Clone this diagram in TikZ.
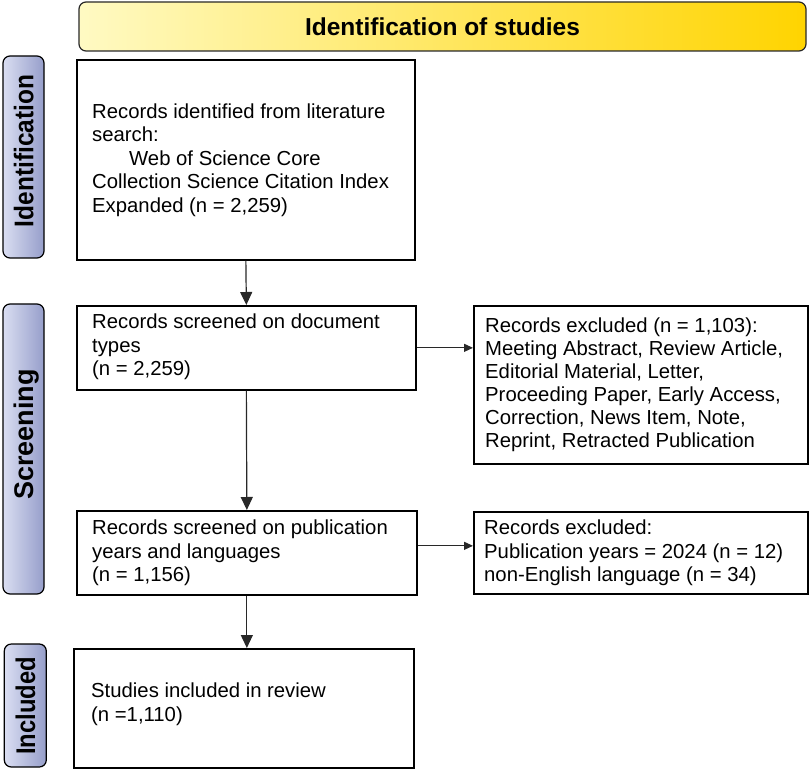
\documentclass[tikz,border=0pt]{standalone}
\usepackage{fontspec}
\setmainfont{Liberation Sans}
\usepackage{graphicx}
\usetikzlibrary{arrows.meta,calc}
\definecolor{hdrL}{RGB}{255,250,195}
\definecolor{hdrM}{RGB}{255,238,40}
\definecolor{hdrR}{RGB}{255,212,0}
\definecolor{labL}{RGB}{218,222,242}
\definecolor{labR}{RGB}{150,158,202}
\definecolor{linec}{RGB}{40,40,40}
\newcommand{\sidetext}[2]{\rotatebox{90}{\scalebox{#1}[1]{\raisebox{0pt}[\height][0pt]{#2}}}}
\tikzset{
 hdr/.style={draw=linec, line width=1.2pt, rounded corners=7pt, left color=hdrL, middle color=hdrM, right color=hdrR, minimum width=727pt, minimum height=49pt, inner sep=0pt, font=\fontsize{24.5}{28}\selectfont\bfseries},
 lab/.style={draw=black, line width=1.2pt, rounded corners=7pt, left color=labL, right color=labR, minimum width=41pt, inner sep=0pt},
 labtxt/.style={inner sep=0pt, font=\fontsize{27}{30}\selectfont\bfseries},
 box/.style={draw=black, line width=1.7pt, fill=white, inner sep=0pt, anchor=north west},
 txt/.style={anchor=west, inner sep=0pt, align=left, font=\fontsize{20.3}{23.5}\selectfont},
 arr/.style={draw=linec, line width=1.2pt, -{Triangle[length=13pt,width=12pt]}},
 harr/.style={draw=linec, line width=1.2pt, -{Triangle[length=9pt,width=8pt]}},
}
\begin{document}
\begin{tikzpicture}[x=1pt,y=-1pt]
\useasboundingbox (0,0) rectangle (809,770);
% header
\node[hdr] (hdr) at (442.5,26.5) {Identification of studies};
% side labels
\node[lab, minimum height=202pt] (labid) at (23.5,157) {};
\node[lab, minimum height=290pt] (labsc) at (23.5,449) {};
\node[lab, minimum height=123pt, minimum width=42pt] (labin) at (25.3,705.5) {};
\node[labtxt] (labidt) at (23.5,151) {\sidetext{0.905}{Identification}};
\node[labtxt] (labsct) at (23.5,434.5) {\sidetext{1.0}{Screening}};
\node[labtxt] (labint) at (25.3,706) {\sidetext{0.88}{Included}};
% boxes
\node[box, minimum width=338pt, minimum height=200pt] (b1) at (76,59) {};
\node[box, minimum width=339pt, minimum height=84pt] (b2) at (76,305) {};
\node[box, minimum width=340pt, minimum height=84pt] (b3) at (76,510) {};
\node[box, minimum width=340pt, minimum height=119pt] (b4) at (73,648) {};
\node[box, minimum width=334pt, minimum height=158pt] (e1) at (473,305) {};
\node[box, minimum width=334pt, minimum height=82pt] (e2) at (473,511) {};
% texts
\node[txt] (t1) at ($(b1.west)+(16,0)$) {Records identified from literature\\search:\\\hspace*{37pt}Web of Science Core\\Collection Science Citation Index\\Expanded (n = 2,259)};
\node[txt] (t2) at ($(b2.west)+(16,-1)$) {Records screened on document\\types\\(n = 2,259)};
\node[txt] (t3) at ($(b3.west)+(16,0)$) {Records screened on publication\\years and languages\\(n = 1,156)};
\node[txt] (t4) at ($(b4.west)+(18,-4)$) {Studies included in review\\(n =1,110)};
\node[txt, font=\fontsize{20.3}{23}\selectfont] (te1) at ($(e1.west)+(12,0)$) {Records excluded (n = 1,103):\\Meeting Abstract, Review Article,\\Editorial Material, Letter,\\Proceeding Paper, Early Access,\\Correction, News Item, Note,\\Reprint, Retracted Publication};
\node[txt] (te2) at ($(e2.west)+(11,0)$) {Records excluded:\\Publication years = 2024 (n = 12)\\non-English language (n = 34)};
% connectors
\draw[arr] (b1.south) -- (b2.north);
\draw[arr] (b2.south) -- (b3.north);
\draw[arr] (b3.south) -- (b3.south |- b4.north);
\draw[harr] (b2.east) -- (b2.east -| e1.west);
\draw[harr] ([yshift=7pt]b3.east) -- ([yshift=7pt]b3.east -| e2.west);
\end{tikzpicture}
\end{document}
